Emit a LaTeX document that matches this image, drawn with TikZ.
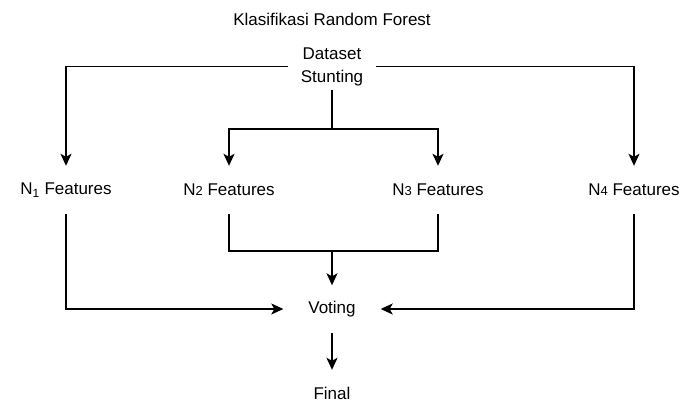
\documentclass[tikz,border=0pt]{standalone}
\usepackage{fontspec}
\setmainfont{Liberation Sans}
\usetikzlibrary{arrows.meta}
\begin{document}
\begin{tikzpicture}[x=1pt,y=1pt,
  lbl/.style={font=\fontsize{17}{23}\selectfont, inner sep=0pt, align=center},
  feat/.style={lbl, minimum height=48pt},
  conn/.style={line width=1.3pt},
  arr/.style={conn, -{Stealth[length=12pt,width=11pt,inset=3pt]}},
]
\useasboundingbox (0,0) rectangle (685,-403);
\newcommand{\smalldig}[1]{{\fontsize{13}{13}\selectfont #1}}
\node[lbl] (title) at (332,-19) {Klasifikasi Random Forest};
\node[lbl, minimum height=47pt, inner xsep=13pt] (ds) at (332,-66.5) {Dataset\\Stunting};
\node[feat] (n1) at (66,-190) {N\textsubscript{1} Features};
\node[feat] (n2) at (229,-190) {N\smalldig{2} Features};
\node[feat] (n3) at (438,-190) {N\smalldig{3} Features};
\node[feat] (n4) at (634,-190) {N\smalldig{4} Features};
\node[lbl, minimum width=97pt, minimum height=47pt] (vote) at (332,-309) {Voting};
\node[lbl, minimum height=46pt] (final) at (332,-393) {Final};
\coordinate (split) at (332,-129);
\coordinate (join) at (332,-251);
% top
\draw[arr] (ds.west) -| (n1.north);
\draw[arr] (ds.east) -| (n4.north);
\draw[conn] (ds.south) -- (split);
\draw[arr] (split) -| (n2.north);
\draw[arr] (split) -| (n3.north);
% bottom
\draw[conn] (n2.south) |- (join) -| (n3.south);
\draw[arr] (join) -- (vote.north);
\draw[arr] (n1.south) |- (vote.west);
\draw[arr] (n4.south) |- (vote.east);
\draw[arr] (vote.south) -- (final.north);
\end{tikzpicture}
\end{document}
